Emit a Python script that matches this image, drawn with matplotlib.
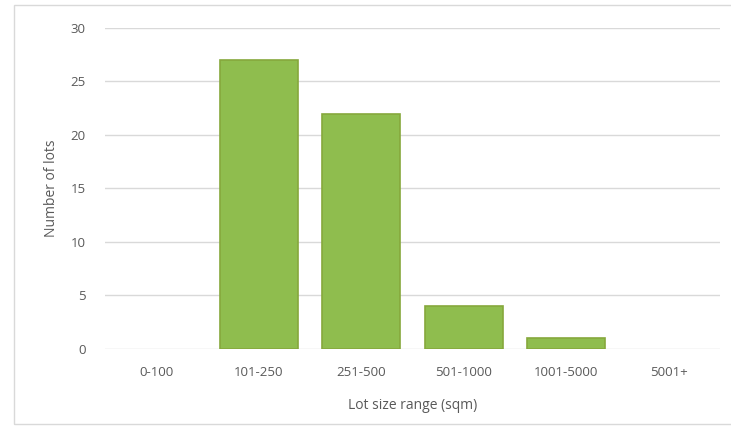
import matplotlib.pyplot as plt
from matplotlib.patches import Rectangle

# Lot counts per size band
ranges = ['0-100', '101-250', '251-500', '501-1000', '1001-5000', '5001+']
lots = [0, 27, 22, 4, 1, 0]

plt.rcParams['font.family'] = ['Open Sans', 'DejaVu Sans']

fig = plt.figure(figsize=(7.31, 4.37), dpi=100)
ax = fig.add_axes([0.1436, 0.2014, 0.841, 0.7346])

# no outline on empty bands so nothing shows at zero
edges = ['#86a83c' if v > 0 else 'none' for v in lots]
ax.bar(range(len(ranges)), lots, width=0.76, color='#8fbd4e',
       edgecolor=edges, linewidth=1.2, zorder=3)

ax.set_xlim(-0.5, len(ranges) - 0.5)
ax.set_ylim(0, 30)
ax.set_yticks(range(0, 31, 5))
ax.set_xticks(range(len(ranges)))
ax.set_xticklabels(ranges)

ax.grid(axis='y', color='#d9d9d9', linewidth=1, zorder=0)
for s in ax.spines.values():
    s.set_visible(False)
ax.tick_params(length=0, labelsize=9.5, colors='#595959')
ax.tick_params(axis='y', pad=14)
ax.tick_params(axis='x', pad=12)

ax.set_xlabel('Lot size range (sqm)', fontsize=10, color='#595959', labelpad=14)
ax.set_ylabel('Number of lots', fontsize=10, color='#595959', labelpad=8)

# light frame around the chart area
fig.patches.append(Rectangle((14 / 731, 13 / 437), 1.0, 1 - 18 / 437,
                             transform=fig.transFigure, fill=False,
                             edgecolor='#d9d9d9', linewidth=1))

fig.savefig('out.png', dpi=100, facecolor='white')
